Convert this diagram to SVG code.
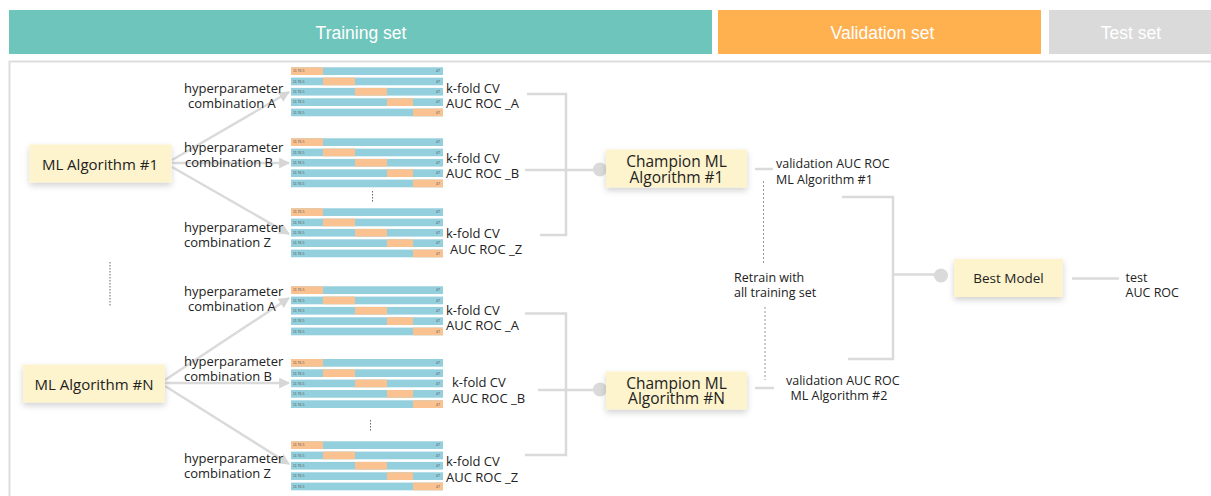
<svg xmlns="http://www.w3.org/2000/svg" xmlns:xlink="http://www.w3.org/1999/xlink" width="1211" height="496" viewBox="0 0 1211 496">
  <style>
    .hdr { font-family: "Liberation Sans", Arial, sans-serif; font-size: 17.5px; fill: #ffffff; text-anchor: middle; }
    .txt { font-family: "Open Sans", "Noto Sans", sans-serif; font-size: 13px; fill: #222222; }
    .sm { font-family: "Open Sans", "Noto Sans", sans-serif; font-size: 12.5px; fill: #222222; }
    .box { fill: #fdf3cc; filter: url(#shadow); }
    .boxlbl { font-family: "Open Sans", "Noto Sans", sans-serif; fill: #222222; text-anchor: middle; }
    .conn { stroke: #dadada; stroke-width: 2.5; fill: none; }
    .dot { fill: #dadada; }
    .dash { stroke: #999999; stroke-width: 1; stroke-dasharray: 2 2; fill: none; }
    .fold { fill: #93cfdc; }
    .held { fill: #fbc291; }
    .tiny { font-family: "Liberation Sans", Arial, sans-serif; font-size: 3.5px; fill: #555555; }
  </style>
  <defs>
    <filter id="shadow" x="-20%" y="-30%" width="140%" height="170%">
      <feDropShadow dx="0" dy="3" stdDeviation="3" flood-color="#000000" flood-opacity="0.18"/>
    </filter>
    <marker id="arrow" viewBox="0 0 10 10" refX="9" refY="5" markerWidth="4.4" markerHeight="4.4" orient="auto" markerUnits="strokeWidth">
      <path d="M0,0 L10,5 L0,10 z" fill="#d6d6d6"/>
    </marker>
    <!-- five-fold cross-validation strip: orange = held-out fold -->
    <g id="kfold">
      <rect class="fold" x="0" y="0" width="152" height="7.7"/>
      <rect class="held" x="0" y="0" width="32" height="7.7"/>
      <rect class="fold" x="0" y="10.3" width="152" height="7.7"/>
      <rect class="held" x="32" y="10.3" width="32" height="7.7"/>
      <rect class="fold" x="0" y="20.6" width="152" height="7.7"/>
      <rect class="held" x="64" y="20.6" width="32" height="7.7"/>
      <rect class="fold" x="0" y="31" width="152" height="7.7"/>
      <rect class="held" x="96" y="31" width="26" height="7.7"/>
      <rect class="fold" x="0" y="41.3" width="152" height="7.7"/>
      <rect class="held" x="122" y="41.3" width="30" height="7.7"/>
      <text class="tiny" x="2" y="5.2">11 76 5</text>
      <text class="tiny" x="2" y="15.5">11 76 5</text>
      <text class="tiny" x="2" y="25.8">11 76 5</text>
      <text class="tiny" x="2" y="36.2">11 76 5</text>
      <text class="tiny" x="2" y="46.5">11 76 5</text>
      <text class="tiny" x="145" y="5.2">47</text>
      <text class="tiny" x="145" y="15.5">47</text>
      <text class="tiny" x="145" y="25.8">47</text>
      <text class="tiny" x="145" y="36.2">47</text>
      <text class="tiny" x="145" y="46.5">47</text>
    </g>
  </defs>

  <rect width="1211" height="496" fill="#ffffff"/>

  <!-- data split header -->
  <g id="header">
    <rect x="9" y="10" width="703" height="44" fill="#6ec5bb"/>
    <text class="hdr" x="361" y="38.5">Training set</text>
    <rect x="718" y="10" width="323" height="44" fill="#ffb04f"/>
    <text class="hdr" x="882.5" y="38.5">Validation set</text>
    <rect x="1049" y="10" width="170" height="44" fill="#dadada"/>
    <text class="hdr" x="1131" y="38.5">Test set</text>
  </g>

  <!-- panel frame -->
  <path d="M9.5,500 L9.5,61.5 L1215,61.5" fill="none" stroke="#dddddd" stroke-width="2"/>

  <!-- connectors -->
  <g id="connectors">
    <!-- algorithm #1 to hyperparameter combinations -->
    <line class="conn" x1="172" y1="160" x2="289" y2="92" marker-end="url(#arrow)"/>
    <line class="conn" x1="172" y1="163" x2="289" y2="163" marker-end="url(#arrow)"/>
    <line class="conn" x1="172" y1="167" x2="289" y2="234" marker-end="url(#arrow)"/>
    <!-- algorithm #N to hyperparameter combinations -->
    <line class="conn" x1="165" y1="380" x2="289" y2="298" marker-end="url(#arrow)"/>
    <line class="conn" x1="165" y1="383" x2="289" y2="383" marker-end="url(#arrow)"/>
    <line class="conn" x1="165" y1="386" x2="289" y2="464" marker-end="url(#arrow)"/>
    <!-- CV scores into champion #1 -->
    <path class="conn" d="M527,94 H566 V235 H540"/>
    <path class="conn" d="M525,170 H600"/>
    <circle class="dot" cx="600" cy="169.5" r="7"/>
    <!-- CV scores into champion #N -->
    <path class="conn" d="M525,313.5 H566 V455 H525"/>
    <path class="conn" d="M538,390 H600"/>
    <circle class="dot" cx="600" cy="389.5" r="7"/>
    <!-- champion outputs -->
    <line class="conn" x1="755" y1="169" x2="773" y2="169"/>
    <line class="conn" x1="755" y1="388" x2="774" y2="388"/>
    <line class="dash" x1="763.5" y1="181" x2="763.5" y2="265"/>
    <line class="dash" x1="765" y1="307" x2="765" y2="380"/>
    <!-- validation scores into best model -->
    <path class="conn" d="M842,197 H893 V359 H848"/>
    <path class="conn" d="M893,274.5 H941"/>
    <circle class="dot" cx="941" cy="275.5" r="7"/>
    <line class="conn" x1="1072" y1="278.5" x2="1119" y2="278.5"/>
    <!-- ellipsis marks -->
    <line x1="110" y1="262" x2="110" y2="306" stroke="#666666" stroke-width="1" stroke-dasharray="1.5 1.5"/>
    <line x1="372.5" y1="191" x2="372.5" y2="202" stroke="#666666" stroke-width="1" stroke-dasharray="1.5 1.5"/>
    <line x1="370.5" y1="420" x2="370.5" y2="431" stroke="#666666" stroke-width="1" stroke-dasharray="1.5 1.5"/>
  </g>

  <!-- algorithm nodes -->
  <g id="ml-algorithm-1">
    <rect class="box" x="29.5" y="144.5" width="142" height="38"/>
    <text class="boxlbl" x="100" y="170" font-size="15">ML Algorithm #1</text>
  </g>
  <g id="ml-algorithm-n">
    <rect class="box" x="23" y="364.5" width="142" height="38"/>
    <text class="boxlbl" x="94" y="389.5" font-size="15">ML Algorithm #N</text>
  </g>

  <!-- hyperparameter combinations with their k-fold CV -->
  <g id="combo-1a">
    <text class="txt" x="184" y="92.5">hyperparameter</text>
    <text class="txt" x="188" y="107.5">combination A</text>
    <use xlink:href="#kfold" x="291" y="67.3"/>
    <text class="txt" x="446" y="92.5">k-fold CV</text>
    <text class="txt" x="446" y="107.5">AUC ROC _A</text>
  </g>
  <g id="combo-1b">
    <text class="txt" x="184" y="151.5">hyperparameter</text>
    <text class="txt" x="185" y="166.5">combination B</text>
    <use xlink:href="#kfold" x="291" y="138.3"/>
    <text class="txt" x="446" y="162.5">k-fold CV</text>
    <text class="txt" x="446" y="177.5">AUC ROC _B</text>
  </g>
  <g id="combo-1z">
    <text class="txt" x="184" y="231.5">hyperparameter</text>
    <text class="txt" x="184" y="246.5">combination Z</text>
    <use xlink:href="#kfold" x="291" y="208.3"/>
    <text class="txt" x="446" y="237.5">k-fold CV</text>
    <text class="txt" x="450" y="253.5">AUC ROC _Z</text>
  </g>
  <g id="combo-na">
    <text class="txt" x="184" y="295.5">hyperparameter</text>
    <text class="txt" x="188" y="310.5">combination A</text>
    <use xlink:href="#kfold" x="291" y="286.3"/>
    <text class="txt" x="446" y="314.5">k-fold CV</text>
    <text class="txt" x="446" y="329.5">AUC ROC _A</text>
  </g>
  <g id="combo-nb">
    <text class="txt" x="184" y="365.5">hyperparameter</text>
    <text class="txt" x="184" y="380.5">combination B</text>
    <use xlink:href="#kfold" x="291" y="359"/>
    <text class="txt" x="452" y="387">k-fold CV</text>
    <text class="txt" x="452" y="402.5">AUC ROC _B</text>
  </g>
  <g id="combo-nz">
    <text class="txt" x="184" y="462.5">hyperparameter</text>
    <text class="txt" x="184" y="477.5">combination Z</text>
    <use xlink:href="#kfold" x="291" y="441.3"/>
    <text class="txt" x="446" y="465.5">k-fold CV</text>
    <text class="txt" x="446" y="481.5">AUC ROC _Z</text>
  </g>

  <!-- champions -->
  <g id="champion-1">
    <rect class="box" x="606" y="149.5" width="141" height="38"/>
    <text class="boxlbl" x="676.5" y="167.3" font-size="15.5">Champion ML</text>
    <text class="boxlbl" x="676.5" y="182.7" font-size="15.5">Algorithm #1</text>
  </g>
  <g id="champion-n">
    <rect class="box" x="606" y="371.5" width="141" height="38"/>
    <text class="boxlbl" x="676.5" y="389" font-size="15.5">Champion ML</text>
    <text class="boxlbl" x="676.5" y="404.3" font-size="15.5">Algorithm #N</text>
  </g>

  <!-- validation scores -->
  <g id="validation-1">
    <text class="sm" x="776" y="168">validation AUC ROC</text>
    <text class="sm" x="776" y="183.5">ML Algorithm #1</text>
  </g>
  <g id="retrain">
    <text class="sm" x="734" y="281.7">Retrain with</text>
    <text class="sm" x="734" y="296.7">all training set</text>
  </g>
  <g id="validation-2">
    <text class="sm" x="786" y="385">validation AUC ROC</text>
    <text class="sm" x="790.5" y="400">ML Algorithm #2</text>
  </g>

  <!-- final model -->
  <g id="best-model">
    <rect class="box" x="954" y="259" width="109" height="38"/>
    <text class="boxlbl" x="1008.5" y="283.3" font-size="13.5">Best Model</text>
  </g>
  <g id="test-score">
    <text class="sm" x="1125.5" y="282.3">test</text>
    <text class="sm" x="1125.5" y="297.3">AUC ROC</text>
  </g>
</svg>
